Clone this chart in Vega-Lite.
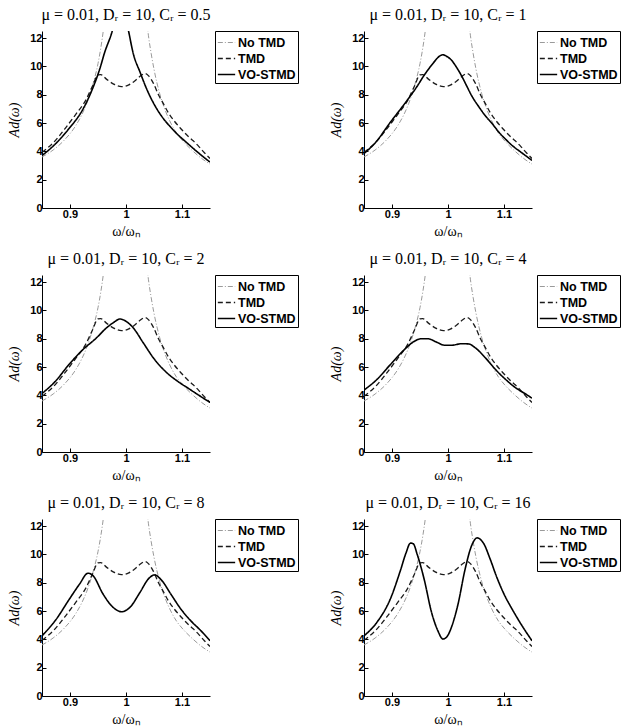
{
  "$schema": "https://vega.github.io/schema/vega-lite/v6.json",
  "background": "white",
  "padding": {"left": 7, "top": 6, "right": 4, "bottom": 4},
  "datasets": {
    "curves": [
      {"p": "all", "s": "No TMD", "x": 0.85, "y": 3.6},
      {"p": "all", "s": "No TMD", "x": 0.87, "y": 4.1},
      {"p": "all", "s": "No TMD", "x": 0.89, "y": 4.8},
      {"p": "all", "s": "No TMD", "x": 0.91, "y": 5.8},
      {"p": "all", "s": "No TMD", "x": 0.92, "y": 6.5},
      {"p": "all", "s": "No TMD", "x": 0.93, "y": 7.4},
      {"p": "all", "s": "No TMD", "x": 0.94, "y": 8.6},
      {"p": "all", "s": "No TMD", "x": 0.95, "y": 10.2},
      {"p": "all", "s": "No TMD", "x": 0.955, "y": 11.3},
      {"p": "all", "s": "No TMD", "x": 0.96, "y": 12.7},
      {"p": "all", "s": "No TMD", "x": 0.965, "y": 14.5},
      {"p": "all", "s": "No TMD", "x": 1.032, "y": 15.5},
      {"p": "all", "s": "No TMD", "x": 1.036, "y": 13.6},
      {"p": "all", "s": "No TMD", "x": 1.04, "y": 12.2},
      {"p": "all", "s": "No TMD", "x": 1.045, "y": 10.9},
      {"p": "all", "s": "No TMD", "x": 1.05, "y": 9.8},
      {"p": "all", "s": "No TMD", "x": 1.06, "y": 8.1},
      {"p": "all", "s": "No TMD", "x": 1.07, "y": 6.9},
      {"p": "all", "s": "No TMD", "x": 1.08, "y": 6.0},
      {"p": "all", "s": "No TMD", "x": 1.09, "y": 5.3},
      {"p": "all", "s": "No TMD", "x": 1.1, "y": 4.8},
      {"p": "all", "s": "No TMD", "x": 1.12, "y": 4.0},
      {"p": "all", "s": "No TMD", "x": 1.135, "y": 3.5},
      {"p": "all", "s": "No TMD", "x": 1.15, "y": 3.1},

      {"p": "all", "s": "TMD", "x": 0.85, "y": 3.94},
      {"p": "all", "s": "TMD", "x": 0.87, "y": 4.6},
      {"p": "all", "s": "TMD", "x": 0.89, "y": 5.55},
      {"p": "all", "s": "TMD", "x": 0.91, "y": 6.6},
      {"p": "all", "s": "TMD", "x": 0.928, "y": 7.6},
      {"p": "all", "s": "TMD", "x": 0.94, "y": 8.6},
      {"p": "all", "s": "TMD", "x": 0.95, "y": 9.4},
      {"p": "all", "s": "TMD", "x": 0.955, "y": 9.42},
      {"p": "all", "s": "TMD", "x": 0.965, "y": 9.1},
      {"p": "all", "s": "TMD", "x": 0.978, "y": 8.75},
      {"p": "all", "s": "TMD", "x": 0.992, "y": 8.57},
      {"p": "all", "s": "TMD", "x": 1.005, "y": 8.7},
      {"p": "all", "s": "TMD", "x": 1.015, "y": 8.95},
      {"p": "all", "s": "TMD", "x": 1.025, "y": 9.3},
      {"p": "all", "s": "TMD", "x": 1.034, "y": 9.5},
      {"p": "all", "s": "TMD", "x": 1.04, "y": 9.35},
      {"p": "all", "s": "TMD", "x": 1.049, "y": 8.8},
      {"p": "all", "s": "TMD", "x": 1.058, "y": 8.0},
      {"p": "all", "s": "TMD", "x": 1.067, "y": 7.35},
      {"p": "all", "s": "TMD", "x": 1.076, "y": 6.7},
      {"p": "all", "s": "TMD", "x": 1.086, "y": 6.15},
      {"p": "all", "s": "TMD", "x": 1.098, "y": 5.6},
      {"p": "all", "s": "TMD", "x": 1.11, "y": 5.1},
      {"p": "all", "s": "TMD", "x": 1.12, "y": 4.75},
      {"p": "all", "s": "TMD", "x": 1.131, "y": 4.3},
      {"p": "all", "s": "TMD", "x": 1.14, "y": 3.9},
      {"p": "all", "s": "TMD", "x": 1.15, "y": 3.5},

      {"p": "0.5", "s": "VO-STMD", "x": 0.85, "y": 3.7},
      {"p": "0.5", "s": "VO-STMD", "x": 0.874, "y": 4.53},
      {"p": "0.5", "s": "VO-STMD", "x": 0.898, "y": 5.6},
      {"p": "0.5", "s": "VO-STMD", "x": 0.922, "y": 6.9},
      {"p": "0.5", "s": "VO-STMD", "x": 0.94, "y": 8.4},
      {"p": "0.5", "s": "VO-STMD", "x": 0.953, "y": 9.8},
      {"p": "0.5", "s": "VO-STMD", "x": 0.962, "y": 11.0},
      {"p": "0.5", "s": "VO-STMD", "x": 0.974, "y": 12.3},
      {"p": "0.5", "s": "VO-STMD", "x": 0.98, "y": 13.1},
      {"p": "0.5", "s": "VO-STMD", "x": 0.99, "y": 14.0},
      {"p": "0.5", "s": "VO-STMD", "x": 1.0, "y": 13.3},
      {"p": "0.5", "s": "VO-STMD", "x": 1.004, "y": 12.6},
      {"p": "0.5", "s": "VO-STMD", "x": 1.013, "y": 10.9},
      {"p": "0.5", "s": "VO-STMD", "x": 1.025, "y": 9.6},
      {"p": "0.5", "s": "VO-STMD", "x": 1.037, "y": 8.4},
      {"p": "0.5", "s": "VO-STMD", "x": 1.055, "y": 7.0},
      {"p": "0.5", "s": "VO-STMD", "x": 1.067, "y": 6.3},
      {"p": "0.5", "s": "VO-STMD", "x": 1.08, "y": 5.7},
      {"p": "0.5", "s": "VO-STMD", "x": 1.092, "y": 5.2},
      {"p": "0.5", "s": "VO-STMD", "x": 1.104, "y": 4.77},
      {"p": "0.5", "s": "VO-STMD", "x": 1.128, "y": 3.94},
      {"p": "0.5", "s": "VO-STMD", "x": 1.15, "y": 3.24},

      {"p": "1", "s": "VO-STMD", "x": 0.85, "y": 3.85},
      {"p": "1", "s": "VO-STMD", "x": 0.87, "y": 4.6},
      {"p": "1", "s": "VO-STMD", "x": 0.897, "y": 6.05},
      {"p": "1", "s": "VO-STMD", "x": 0.927, "y": 7.6},
      {"p": "1", "s": "VO-STMD", "x": 0.945, "y": 8.6},
      {"p": "1", "s": "VO-STMD", "x": 0.957, "y": 9.35},
      {"p": "1", "s": "VO-STMD", "x": 0.967, "y": 9.9},
      {"p": "1", "s": "VO-STMD", "x": 0.976, "y": 10.35},
      {"p": "1", "s": "VO-STMD", "x": 0.984, "y": 10.7},
      {"p": "1", "s": "VO-STMD", "x": 0.991, "y": 10.82},
      {"p": "1", "s": "VO-STMD", "x": 0.998, "y": 10.7},
      {"p": "1", "s": "VO-STMD", "x": 1.006, "y": 10.45},
      {"p": "1", "s": "VO-STMD", "x": 1.015, "y": 9.95},
      {"p": "1", "s": "VO-STMD", "x": 1.024, "y": 9.35},
      {"p": "1", "s": "VO-STMD", "x": 1.033, "y": 8.65},
      {"p": "1", "s": "VO-STMD", "x": 1.042, "y": 7.95},
      {"p": "1", "s": "VO-STMD", "x": 1.055, "y": 7.15},
      {"p": "1", "s": "VO-STMD", "x": 1.067, "y": 6.5},
      {"p": "1", "s": "VO-STMD", "x": 1.08, "y": 5.9},
      {"p": "1", "s": "VO-STMD", "x": 1.091, "y": 5.35},
      {"p": "1", "s": "VO-STMD", "x": 1.103, "y": 4.85},
      {"p": "1", "s": "VO-STMD", "x": 1.115, "y": 4.4},
      {"p": "1", "s": "VO-STMD", "x": 1.13, "y": 3.95},
      {"p": "1", "s": "VO-STMD", "x": 1.15, "y": 3.36},

      {"p": "2", "s": "VO-STMD", "x": 0.85, "y": 4.13},
      {"p": "2", "s": "VO-STMD", "x": 0.874, "y": 5.0},
      {"p": "2", "s": "VO-STMD", "x": 0.898, "y": 6.17},
      {"p": "2", "s": "VO-STMD", "x": 0.923, "y": 7.23},
      {"p": "2", "s": "VO-STMD", "x": 0.947, "y": 8.05},
      {"p": "2", "s": "VO-STMD", "x": 0.965, "y": 8.76},
      {"p": "2", "s": "VO-STMD", "x": 0.978, "y": 9.15},
      {"p": "2", "s": "VO-STMD", "x": 0.989, "y": 9.39},
      {"p": "2", "s": "VO-STMD", "x": 1.0, "y": 9.23},
      {"p": "2", "s": "VO-STMD", "x": 1.013, "y": 8.76},
      {"p": "2", "s": "VO-STMD", "x": 1.031, "y": 7.7},
      {"p": "2", "s": "VO-STMD", "x": 1.049, "y": 6.64},
      {"p": "2", "s": "VO-STMD", "x": 1.067, "y": 5.82},
      {"p": "2", "s": "VO-STMD", "x": 1.092, "y": 5.0},
      {"p": "2", "s": "VO-STMD", "x": 1.11, "y": 4.53},
      {"p": "2", "s": "VO-STMD", "x": 1.128, "y": 4.06},
      {"p": "2", "s": "VO-STMD", "x": 1.15, "y": 3.5},

      {"p": "4", "s": "VO-STMD", "x": 0.85, "y": 4.37},
      {"p": "4", "s": "VO-STMD", "x": 0.873, "y": 5.12},
      {"p": "4", "s": "VO-STMD", "x": 0.897, "y": 6.17},
      {"p": "4", "s": "VO-STMD", "x": 0.922, "y": 7.23},
      {"p": "4", "s": "VO-STMD", "x": 0.94, "y": 7.82},
      {"p": "4", "s": "VO-STMD", "x": 0.952, "y": 8.0},
      {"p": "4", "s": "VO-STMD", "x": 0.964, "y": 8.0},
      {"p": "4", "s": "VO-STMD", "x": 0.979, "y": 7.77},
      {"p": "4", "s": "VO-STMD", "x": 0.994, "y": 7.54},
      {"p": "4", "s": "VO-STMD", "x": 1.006, "y": 7.54},
      {"p": "4", "s": "VO-STMD", "x": 1.025, "y": 7.65},
      {"p": "4", "s": "VO-STMD", "x": 1.037, "y": 7.63},
      {"p": "4", "s": "VO-STMD", "x": 1.049, "y": 7.35},
      {"p": "4", "s": "VO-STMD", "x": 1.067, "y": 6.64},
      {"p": "4", "s": "VO-STMD", "x": 1.085, "y": 5.82},
      {"p": "4", "s": "VO-STMD", "x": 1.103, "y": 5.12},
      {"p": "4", "s": "VO-STMD", "x": 1.121, "y": 4.53},
      {"p": "4", "s": "VO-STMD", "x": 1.14, "y": 4.06},
      {"p": "4", "s": "VO-STMD", "x": 1.15, "y": 3.8},

      {"p": "8", "s": "VO-STMD", "x": 0.85, "y": 4.25},
      {"p": "8", "s": "VO-STMD", "x": 0.875, "y": 5.4},
      {"p": "8", "s": "VO-STMD", "x": 0.899, "y": 6.85},
      {"p": "8", "s": "VO-STMD", "x": 0.917, "y": 7.9},
      {"p": "8", "s": "VO-STMD", "x": 0.932, "y": 8.67},
      {"p": "8", "s": "VO-STMD", "x": 0.941, "y": 8.5},
      {"p": "8", "s": "VO-STMD", "x": 0.959, "y": 7.2},
      {"p": "8", "s": "VO-STMD", "x": 0.977, "y": 6.26},
      {"p": "8", "s": "VO-STMD", "x": 0.992, "y": 5.95},
      {"p": "8", "s": "VO-STMD", "x": 1.007, "y": 6.26},
      {"p": "8", "s": "VO-STMD", "x": 1.025, "y": 7.32},
      {"p": "8", "s": "VO-STMD", "x": 1.04, "y": 8.27},
      {"p": "8", "s": "VO-STMD", "x": 1.051, "y": 8.55},
      {"p": "8", "s": "VO-STMD", "x": 1.064, "y": 8.15},
      {"p": "8", "s": "VO-STMD", "x": 1.08, "y": 7.2},
      {"p": "8", "s": "VO-STMD", "x": 1.098, "y": 6.14},
      {"p": "8", "s": "VO-STMD", "x": 1.116, "y": 5.3},
      {"p": "8", "s": "VO-STMD", "x": 1.134, "y": 4.6},
      {"p": "8", "s": "VO-STMD", "x": 1.15, "y": 3.9},

      {"p": "16", "s": "VO-STMD", "x": 0.85, "y": 4.25},
      {"p": "16", "s": "VO-STMD", "x": 0.873, "y": 5.2},
      {"p": "16", "s": "VO-STMD", "x": 0.897, "y": 6.85},
      {"p": "16", "s": "VO-STMD", "x": 0.915, "y": 8.86},
      {"p": "16", "s": "VO-STMD", "x": 0.925, "y": 10.1},
      {"p": "16", "s": "VO-STMD", "x": 0.933, "y": 10.8},
      {"p": "16", "s": "VO-STMD", "x": 0.938, "y": 10.75},
      {"p": "16", "s": "VO-STMD", "x": 0.945, "y": 10.0},
      {"p": "16", "s": "VO-STMD", "x": 0.958, "y": 8.15},
      {"p": "16", "s": "VO-STMD", "x": 0.97, "y": 6.0},
      {"p": "16", "s": "VO-STMD", "x": 0.982, "y": 4.6},
      {"p": "16", "s": "VO-STMD", "x": 0.991, "y": 4.02},
      {"p": "16", "s": "VO-STMD", "x": 1.0, "y": 4.3},
      {"p": "16", "s": "VO-STMD", "x": 1.006, "y": 4.84},
      {"p": "16", "s": "VO-STMD", "x": 1.018, "y": 6.5},
      {"p": "16", "s": "VO-STMD", "x": 1.03, "y": 8.86},
      {"p": "16", "s": "VO-STMD", "x": 1.042, "y": 10.6},
      {"p": "16", "s": "VO-STMD", "x": 1.052, "y": 11.17},
      {"p": "16", "s": "VO-STMD", "x": 1.058, "y": 11.05},
      {"p": "16", "s": "VO-STMD", "x": 1.064, "y": 10.75},
      {"p": "16", "s": "VO-STMD", "x": 1.075, "y": 9.7},
      {"p": "16", "s": "VO-STMD", "x": 1.087, "y": 8.4},
      {"p": "16", "s": "VO-STMD", "x": 1.1, "y": 7.2},
      {"p": "16", "s": "VO-STMD", "x": 1.115, "y": 6.1},
      {"p": "16", "s": "VO-STMD", "x": 1.13, "y": 5.1},
      {"p": "16", "s": "VO-STMD", "x": 1.15, "y": 3.9}
    ]
  },
  "data": {"name": "curves"},
  "columns": 2,
  "spacing": {"row": 12, "column": 30},
  "resolve": {"legend": {"color": "independent", "strokeDash": "independent", "strokeWidth": "independent"}},
  "concat": [
    {
      "title": "μ = 0.01,  Dᵣ = 10,  Cᵣ = 0.5",
      "width": 168, "height": 177,
      "transform": [{"filter": "datum.p === 'all' || datum.p === '0.5'"}],
      "mark": {"type": "line", "interpolate": "monotone", "clip": true},
      "encoding": {
        "x": {"field": "x", "type": "quantitative", "scale": {"domain": [0.85, 1.15], "nice": false, "zero": false}, "axis": {"values": [0.9, 1, 1.1], "format": "~g", "title": "ω/ωₙ"}},
        "y": {"field": "y", "type": "quantitative", "scale": {"domain": [0, 12.5], "nice": false}, "axis": {"values": [0, 2, 4, 6, 8, 10, 12], "title": "Ad(ω)"}},
        "color": {"field": "s", "type": "nominal", "scale": {"domain": ["No TMD", "TMD", "VO-STMD"], "range": ["#9a9a9a", "#1a1a1a", "#000000"]}, "legend": {"title": null}},
        "strokeDash": {"field": "s", "type": "nominal", "scale": {"domain": ["No TMD", "TMD", "VO-STMD"], "range": [[5, 2, 1, 2], [5, 3], [1, 0]]}, "legend": {"title": null}},
        "strokeWidth": {"field": "s", "type": "nominal", "scale": {"domain": ["No TMD", "TMD", "VO-STMD"], "range": [1, 1.6, 2.4]}, "legend": {"title": null}}
      }
    },
    {
      "title": "μ = 0.01,  Dᵣ = 10,  Cᵣ = 1",
      "width": 168, "height": 177,
      "transform": [{"filter": "datum.p === 'all' || datum.p === '1'"}],
      "mark": {"type": "line", "interpolate": "monotone", "clip": true},
      "encoding": {
        "x": {"field": "x", "type": "quantitative", "scale": {"domain": [0.85, 1.15], "nice": false, "zero": false}, "axis": {"values": [0.9, 1, 1.1], "format": "~g", "title": "ω/ωₙ"}},
        "y": {"field": "y", "type": "quantitative", "scale": {"domain": [0, 12.5], "nice": false}, "axis": {"values": [0, 2, 4, 6, 8, 10, 12], "title": "Ad(ω)"}},
        "color": {"field": "s", "type": "nominal", "scale": {"domain": ["No TMD", "TMD", "VO-STMD"], "range": ["#9a9a9a", "#1a1a1a", "#000000"]}, "legend": {"title": null}},
        "strokeDash": {"field": "s", "type": "nominal", "scale": {"domain": ["No TMD", "TMD", "VO-STMD"], "range": [[5, 2, 1, 2], [5, 3], [1, 0]]}, "legend": {"title": null}},
        "strokeWidth": {"field": "s", "type": "nominal", "scale": {"domain": ["No TMD", "TMD", "VO-STMD"], "range": [1, 1.6, 2.4]}, "legend": {"title": null}}
      }
    },
    {
      "title": "μ = 0.01,  Dᵣ = 10,  Cᵣ = 2",
      "width": 168, "height": 177,
      "transform": [{"filter": "datum.p === 'all' || datum.p === '2'"}],
      "mark": {"type": "line", "interpolate": "monotone", "clip": true},
      "encoding": {
        "x": {"field": "x", "type": "quantitative", "scale": {"domain": [0.85, 1.15], "nice": false, "zero": false}, "axis": {"values": [0.9, 1, 1.1], "format": "~g", "title": "ω/ωₙ"}},
        "y": {"field": "y", "type": "quantitative", "scale": {"domain": [0, 12.5], "nice": false}, "axis": {"values": [0, 2, 4, 6, 8, 10, 12], "title": "Ad(ω)"}},
        "color": {"field": "s", "type": "nominal", "scale": {"domain": ["No TMD", "TMD", "VO-STMD"], "range": ["#9a9a9a", "#1a1a1a", "#000000"]}, "legend": {"title": null}},
        "strokeDash": {"field": "s", "type": "nominal", "scale": {"domain": ["No TMD", "TMD", "VO-STMD"], "range": [[5, 2, 1, 2], [5, 3], [1, 0]]}, "legend": {"title": null}},
        "strokeWidth": {"field": "s", "type": "nominal", "scale": {"domain": ["No TMD", "TMD", "VO-STMD"], "range": [1, 1.6, 2.4]}, "legend": {"title": null}}
      }
    },
    {
      "title": "μ = 0.01,  Dᵣ = 10,  Cᵣ = 4",
      "width": 168, "height": 177,
      "transform": [{"filter": "datum.p === 'all' || datum.p === '4'"}],
      "mark": {"type": "line", "interpolate": "monotone", "clip": true},
      "encoding": {
        "x": {"field": "x", "type": "quantitative", "scale": {"domain": [0.85, 1.15], "nice": false, "zero": false}, "axis": {"values": [0.9, 1, 1.1], "format": "~g", "title": "ω/ωₙ"}},
        "y": {"field": "y", "type": "quantitative", "scale": {"domain": [0, 12.5], "nice": false}, "axis": {"values": [0, 2, 4, 6, 8, 10, 12], "title": "Ad(ω)"}},
        "color": {"field": "s", "type": "nominal", "scale": {"domain": ["No TMD", "TMD", "VO-STMD"], "range": ["#9a9a9a", "#1a1a1a", "#000000"]}, "legend": {"title": null}},
        "strokeDash": {"field": "s", "type": "nominal", "scale": {"domain": ["No TMD", "TMD", "VO-STMD"], "range": [[5, 2, 1, 2], [5, 3], [1, 0]]}, "legend": {"title": null}},
        "strokeWidth": {"field": "s", "type": "nominal", "scale": {"domain": ["No TMD", "TMD", "VO-STMD"], "range": [1, 1.6, 2.4]}, "legend": {"title": null}}
      }
    },
    {
      "title": "μ = 0.01,  Dᵣ = 10,  Cᵣ = 8",
      "width": 168, "height": 177,
      "transform": [{"filter": "datum.p === 'all' || datum.p === '8'"}],
      "mark": {"type": "line", "interpolate": "monotone", "clip": true},
      "encoding": {
        "x": {"field": "x", "type": "quantitative", "scale": {"domain": [0.85, 1.15], "nice": false, "zero": false}, "axis": {"values": [0.9, 1, 1.1], "format": "~g", "title": "ω/ωₙ"}},
        "y": {"field": "y", "type": "quantitative", "scale": {"domain": [0, 12.5], "nice": false}, "axis": {"values": [0, 2, 4, 6, 8, 10, 12], "title": "Ad(ω)"}},
        "color": {"field": "s", "type": "nominal", "scale": {"domain": ["No TMD", "TMD", "VO-STMD"], "range": ["#9a9a9a", "#1a1a1a", "#000000"]}, "legend": {"title": null}},
        "strokeDash": {"field": "s", "type": "nominal", "scale": {"domain": ["No TMD", "TMD", "VO-STMD"], "range": [[5, 2, 1, 2], [5, 3], [1, 0]]}, "legend": {"title": null}},
        "strokeWidth": {"field": "s", "type": "nominal", "scale": {"domain": ["No TMD", "TMD", "VO-STMD"], "range": [1, 1.6, 2.4]}, "legend": {"title": null}}
      }
    },
    {
      "title": "μ = 0.01,  Dᵣ = 10,  Cᵣ = 16",
      "width": 168, "height": 177,
      "transform": [{"filter": "datum.p === 'all' || datum.p === '16'"}],
      "mark": {"type": "line", "interpolate": "monotone", "clip": true},
      "encoding": {
        "x": {"field": "x", "type": "quantitative", "scale": {"domain": [0.85, 1.15], "nice": false, "zero": false}, "axis": {"values": [0.9, 1, 1.1], "format": "~g", "title": "ω/ωₙ"}},
        "y": {"field": "y", "type": "quantitative", "scale": {"domain": [0, 12.5], "nice": false}, "axis": {"values": [0, 2, 4, 6, 8, 10, 12], "title": "Ad(ω)"}},
        "color": {"field": "s", "type": "nominal", "scale": {"domain": ["No TMD", "TMD", "VO-STMD"], "range": ["#9a9a9a", "#1a1a1a", "#000000"]}, "legend": {"title": null}},
        "strokeDash": {"field": "s", "type": "nominal", "scale": {"domain": ["No TMD", "TMD", "VO-STMD"], "range": [[5, 2, 1, 2], [5, 3], [1, 0]]}, "legend": {"title": null}},
        "strokeWidth": {"field": "s", "type": "nominal", "scale": {"domain": ["No TMD", "TMD", "VO-STMD"], "range": [1, 1.6, 2.4]}, "legend": {"title": null}}
      }
    }
  ],
  "config": {
    "view": {"stroke": null},
    "axis": {
      "grid": false,
      "domainColor": "#000000",
      "domainWidth": 1,
      "tickColor": "#000000",
      "tickSize": -4,
      "labelFont": "Liberation Sans",
      "labelFontWeight": "bold",
      "labelFontSize": 11,
      "labelColor": "#000000",
      "labelPadding": 4,
      "titleFont": "Liberation Serif",
      "titleFontWeight": "normal",
      "titleFontSize": 14,
      "titleColor": "#000000"
    },
    "axisX": {"titlePadding": 5},
    "axisY": {"titleFontStyle": "italic", "titlePadding": 8},
    "title": {
      "font": "Liberation Serif",
      "fontSize": 16,
      "fontWeight": "normal",
      "color": "#000000",
      "anchor": "middle",
      "frame": "group",
      "offset": 8
    },
    "legend": {
      "orient": "right",
      "offset": 5,
      "strokeColor": "#000000",
      "padding": 2,
      "rowPadding": -6,
      "labelFont": "Liberation Sans",
      "labelFontWeight": "bold",
      "labelFontSize": 12.5,
      "labelColor": "#000000",
      "labelOffset": 2,
      "symbolType": "stroke",
      "symbolSize": 300
    }
  }
}
